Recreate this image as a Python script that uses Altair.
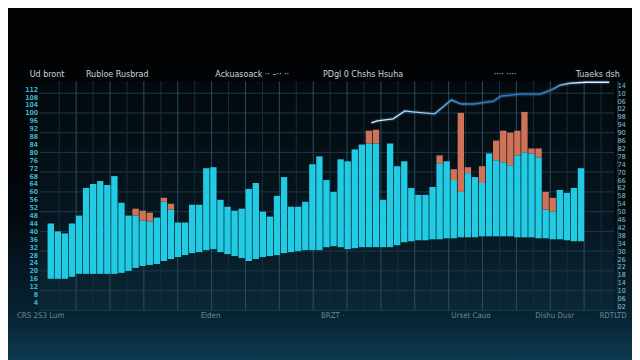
import altair as alt
import pandas as pd
import numpy as np

# ---------------- data ----------------
bar_top = [44, 40, 39, 44, 48, 62, 64, 65.5, 63.5, 68,
           54.5, 48, 48, 45.5, 45, 47, 55, 51, 44.5, 44.5,
           53.5, 53.5, 72, 72.5, 56, 52.5, 50.5, 51.5, 61.5, 64.5,
           50, 47.5, 58, 67.5, 52.5, 52.5, 55, 74, 78, 66,
           60, 76.5, 75.5, 81.5, 84, 84.5, 84.5, 56, 84.5, 73,
           75.5, 62, 58.5, 58.5, 62.5, 74.5, 75.5, 66, 60, 69.5,
           67.5, 64.5, 79.5, 76, 75, 73.5, 78.5, 80, 79.5, 77.5,
           51, 50, 61, 59.5, 62, 72]
bar_base = [16, 16, 16, 17, 18.5, 18.5, 18.5, 18.5, 18.5, 18.5,
            19, 20, 21.5, 22.5, 23, 23.5, 25, 26, 27, 28,
            29, 29.5, 30.5, 31, 29.5, 28.5, 27.5, 26.5, 25, 26,
            27, 27.5, 28, 29, 29.5, 30, 30.5, 30.5, 30.5, 32,
            32.5, 32, 31, 31.5, 32, 32, 32, 32, 32, 33,
            34.5, 35, 35.5, 35.5, 36, 36, 36.5, 36.5, 37, 37,
            37, 37.5, 37.5, 37.5, 37.5, 37.5, 37, 37, 37, 36.5,
            36.5, 36, 36, 35.5, 35, 35]
# orange caps: bar number -> top of the cap
cap_bar = [13, 14, 15, 17, 18, 46, 47, 56, 58, 59, 60, 62, 64, 65, 66, 67, 68, 69, 70, 71, 72]
cap_top = [51.5, 50.5, 49.5, 57, 54, 91, 91.5, 78.5, 71.5, 100, 72.5, 73, 86, 91, 90, 91, 100.5, 82, 82, 60, 57]

line_x = [46.35, 47.19, 49.42, 51.1, 52.2, 55.3, 57.66, 59.06, 60.87, 63.66,
          64.64, 67.44, 70.23, 72.04, 73.02, 74.42, 76.65, 80.0]
line_y = [95, 96, 97, 101, 100.5, 99.5, 106.5, 104.5, 104.5, 106,
          108.5, 109.5, 109.5, 112, 114, 115, 115.5, 115.5]

top_labels = ["Ud bront", "Rubloe  Rusbrad", "Ackuasoack \u00b7\u00b7 \u2013\u00b7\u00b7 \u00b7\u00b7",
              "PDgl 0 Chshs  Hsuha", "\u00b7\u00b7\u00b7\u00b7 \u00b7\u00b7\u00b7\u00b7", "Tuaeks dsh"]
top_label_x = [-1.98, 5.98, 24.28, 39.5, 63.66, 75.26]
bottom_labels = ["CRS 2S3 Lum", "Elden", "BRZT \u00b7", "Urset Cauo", "Dishu Dusr", "RDTLTD"]
bottom_label_x = [-3.79, 22.2, 39.22, 57.66, 69.53, 78.61]

left_ticks = list(range(4, 113, 4))
right_ticks = list(range(2, 115, 4))

hgrid = list(range(0, 117, 10))
vgrid_major = [4.59 + 4.79 * k for k in range(17)]
vgrid_minor = [2.2 + 4.79 * k for k in range(17)]

# ---------------- tables ----------------
n = len(bar_top)
bars = pd.DataFrame({"i": np.arange(1, n + 1), "top": bar_top, "base": bar_base})
caps = pd.DataFrame({"i": cap_bar, "cap": cap_top,
                     "top": [bar_top[b - 1] for b in cap_bar]})
line = pd.DataFrame({"x": line_x, "y": line_y})
toplab = pd.DataFrame({"x": top_label_x, "t": top_labels, "y": [119.5] * 6})
botlab = pd.DataFrame({"x": bottom_label_x, "t": bottom_labels, "y": [-3] * 6})

W, H = 582, 232
XS = alt.Scale(domain=[-0.58, 80.7], nice=False, zero=False)
YS = alt.Scale(domain=[0, 116], nice=False, zero=False)

one = pd.DataFrame({"a": [0]})

bg = alt.Chart(one).mark_rect(
    fill=alt.Gradient(gradient="linear",
                      stops=[alt.GradientStop(color="#010203", offset=0),
                             alt.GradientStop(color="#02070b", offset=0.55),
                             alt.GradientStop(color="#072333", offset=0.85),
                             alt.GradientStop(color="#0f3e54", offset=1)],
                      x1=0, x2=0, y1=0, y2=1)
).encode(x=alt.value(-40), x2=alt.value(W + 30), y=alt.value(-80), y2=alt.value(H + 60))

plotbg = alt.Chart(one).mark_rect(
    fill=alt.Gradient(gradient="linear",
                      stops=[alt.GradientStop(color="#03090d", offset=0),
                             alt.GradientStop(color="#061620", offset=0.6),
                             alt.GradientStop(color="#0b2838", offset=1)],
                      x1=0, x2=0, y1=0, y2=1)
).encode(x=alt.value(0), x2=alt.value(W), y=alt.value(0), y2=alt.value(H))

hg = alt.Chart(pd.DataFrame({"v": hgrid})).mark_rule(color="#1d3a48", strokeWidth=1).encode(
    y=alt.Y("v:Q", scale=YS, axis=None), x=alt.value(0), x2=alt.value(W))
vg1 = alt.Chart(pd.DataFrame({"v": vgrid_major})).mark_rule(color="#2b4e5e", strokeWidth=1).encode(
    x=alt.X("v:Q", scale=XS, axis=None), y=alt.value(0), y2=alt.value(H))
vg2 = alt.Chart(pd.DataFrame({"v": vgrid_minor})).mark_rule(color="#15303c", strokeWidth=1).encode(
    x=alt.X("v:Q", scale=XS, axis=None), y=alt.value(0), y2=alt.value(H))

cyan = alt.Chart(bars).transform_calculate(
    x0="datum.i - 0.45", x1="datum.i + 0.45"
).mark_rect(color="#22cbe4").encode(
    x=alt.X("x0:Q", scale=XS, axis=None), x2="x1:Q",
    y=alt.Y("base:Q", scale=YS,
            axis=alt.Axis(orient="left", values=left_ticks, labelColor="#35b6d8",
                          labelFontSize=7, labelFont="DejaVu Sans Condensed", ticks=False,
                          domain=False, grid=False, labelPadding=2, title=None,
                          labelOverlap=False, labelFontWeight="bold", zindex=2)),
    y2="top:Q")

orange = alt.Chart(caps).transform_calculate(
    x0="datum.i - 0.45", x1="datum.i + 0.45"
).mark_rect(color="#cf7257").encode(
    x=alt.X("x0:Q", scale=XS, axis=None), x2="x1:Q",
    y=alt.Y("top:Q", scale=YS,
            axis=alt.Axis(orient="right", values=right_ticks, labelColor="#8cc4d6",
                          labelFontSize=7, labelFont="DejaVu Sans Condensed", ticks=False,
                          domain=False, grid=False, labelPadding=3, title=None,
                          labelOverlap=False, zindex=2,
                          labelExpr="format(datum.value % 100, '02d')")),
    y2="cap:Q")

glow = alt.Chart(line).mark_line(color="#3f8fd6", strokeWidth=4, opacity=0.25).encode(
    x=alt.X("x:Q", scale=XS, axis=None), y=alt.Y("y:Q", scale=YS, axis=None))
ln = alt.Chart(line).mark_line(
    strokeWidth=1.4,
    stroke=alt.Gradient(gradient="linear",
                        stops=[alt.GradientStop(color="#e6f1f6", offset=0),
                               alt.GradientStop(color="#a9d4ec", offset=0.2),
                               alt.GradientStop(color="#2f7fc8", offset=0.4),
                               alt.GradientStop(color="#2f7fc8", offset=0.75),
                               alt.GradientStop(color="#dfeef5", offset=0.88),
                               alt.GradientStop(color="#e6f1f6", offset=1)],
                        x1=0, x2=1, y1=0, y2=0)
).encode(x=alt.X("x:Q", scale=XS, axis=None), y=alt.Y("y:Q", scale=YS, axis=None))

ttop = alt.Chart(toplab).mark_text(align="left", baseline="middle", fontSize=9,
                                   color="#c9d6dc", font="DejaVu Sans Condensed").encode(
    x=alt.X("x:Q", scale=XS, axis=None), y=alt.Y("y:Q", scale=YS, axis=None), text="t:N")
tbot = alt.Chart(botlab).mark_text(align="left", baseline="middle", fontSize=8,
                                   color="#6d8896", font="DejaVu Sans Condensed").encode(
    x=alt.X("x:Q", scale=XS, axis=None), y=alt.Y("y:Q", scale=YS, axis=None), text="t:N")

chart = alt.layer(bg, plotbg, hg, vg2, vg1, cyan, orange, glow, ln, ttop, tbot).resolve_axis(
    y="independent"
).properties(
    width=W, height=H,
    autosize=alt.AutoSizeParams(type="none"),
    padding={"left": 32, "top": 72, "right": 18, "bottom": 48},
    background="#020406",
).configure_view(stroke="#4e6e7c", strokeWidth=1)

chart.save("out.html", embed_options={"renderer": "svg", "actions": False})
